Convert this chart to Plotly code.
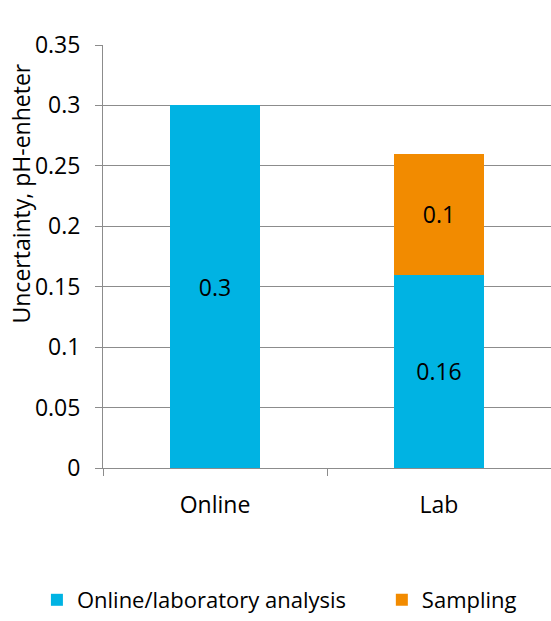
import plotly.graph_objects as go

categories = ["Online", "Lab"]
analysis = [0.3, 0.16]
sampling = [None, 0.1]
series_names = ["Online/laboratory analysis", "Sampling"]
y_ticks = [0, 0.05, 0.1, 0.15, 0.2, 0.25, 0.3, 0.35]
y_tick_labels = ["0", "0.05", "0.1", "0.15", "0.2", "0.25", "0.3", "0.35"]

FONT = "'Open Sans', sans-serif"
FS = 23
GRID = "#8c8c8c"

fig = go.Figure()
fig.add_trace(go.Bar(
    x=categories, y=analysis, name=series_names[0],
    marker=dict(color="#00B3E3", line=dict(width=0)),
    text=[str(v) for v in analysis], textposition="inside",
    insidetextanchor="middle", textangle=0,
    textfont=dict(family=FONT, size=FS, color="black"),
    legend="legend",
))
fig.add_trace(go.Bar(
    x=categories, y=sampling, name=series_names[1],
    marker=dict(color="#F28B00", line=dict(width=0)),
    text=["" if v is None else str(v) for v in sampling], textposition="inside",
    insidetextanchor="middle", textangle=0,
    textfont=dict(family=FONT, size=FS, color="black"),
    legend="legend2",
))

legend_common = dict(
    orientation="h", xref="container", yref="container",
    xanchor="left", y=0.0, yanchor="bottom",
    font=dict(family=FONT, size=22, color="black"),
    itemwidth=30,
)

fig.update_layout(
    barmode="stack",
    bargap=0.6,
    width=551, height=621,
    margin=dict(l=103, r=0, t=45, b=153),
    paper_bgcolor="white", plot_bgcolor="white",
    font=dict(family=FONT, size=FS, color="black"),
    uniformtext=dict(mode=False),
    showlegend=True,
    legend=dict(x=0.067, **legend_common),
    legend2=dict(x=0.693, **legend_common),
    xaxis=dict(
        type="category", tickson="boundaries", ticks="outside", ticklen=7,
        tickcolor=GRID, showline=True, linecolor=GRID, linewidth=1,
        showgrid=False, tickfont=dict(family=FONT, size=FS),
        ticklabelstandoff=16,
    ),
    yaxis=dict(
        range=[0, 0.35], tickvals=y_ticks, ticktext=y_tick_labels,
        ticks="outside", ticklen=7, tickcolor=GRID,
        showline=True, linecolor=GRID, linewidth=1,
        showgrid=True, gridcolor=GRID, gridwidth=1,
        zeroline=False, tickfont=dict(family=FONT, size=FS),
        ticklabelstandoff=10,
    ),
    annotations=[dict(
        text="Uncertainty, pH-enheter", textangle=-90,
        xref="paper", yref="paper", x=-0.182, y=0.65,
        xanchor="center", yanchor="middle", showarrow=False,
        font=dict(family=FONT, size=FS, color="black"),
    )],
)

fig.write_html("out.html")
